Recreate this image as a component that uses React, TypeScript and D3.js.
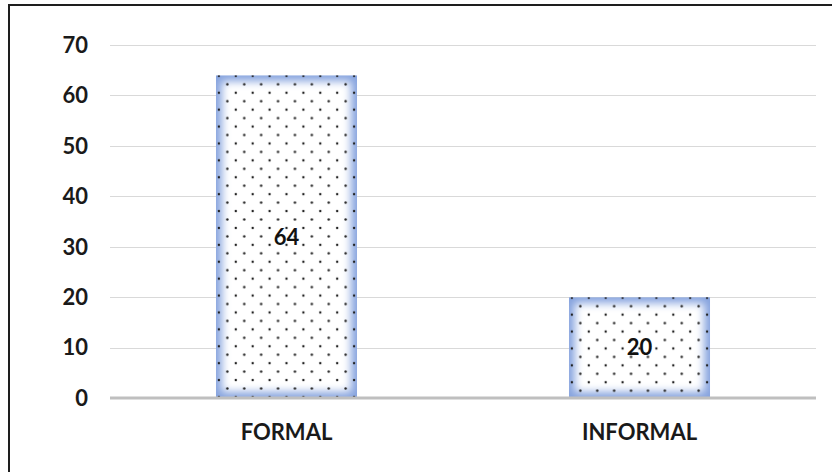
import React from "react";
import * as d3 from "d3";

// Employment type counts
const categories: string[] = ["FORMAL", "INFORMAL"];
const values: number[] = [64, 20];
const yTicks: number[] = [0, 10, 20, 30, 40, 50, 60, 70];

const W = 832;
const H = 472;
const plot = { left: 110, right: 816, top: 45, bottom: 398 };
const FONT = "Lato, 'Open Sans', sans-serif";

export default function App() {
  const x = d3
    .scaleBand<string>()
    .domain(categories)
    .range([plot.left, plot.right])
    .paddingInner(0.6)
    .paddingOuter(0.3);
  const y = d3.scaleLinear().domain([0, 70]).range([plot.bottom, plot.top]);
  const bw = x.bandwidth();
  const tile = 16.9;

  return (
    <div style={{ position: "fixed", left: 0, top: 0 }}>
      <svg width={W} height={H} style={{ display: "block", background: "#fff" }}>
        <defs>
          <filter id="glow" x="-20%" y="-20%" width="140%" height="140%">
            <feGaussianBlur stdDeviation="4.5" />
          </filter>
          {categories.map((c, i) => {
            const bx = x(c)!;
            const by = y(values[i]);
            return (
              <React.Fragment key={c}>
                <clipPath id={`clip-${i}`}>
                  <rect x={bx} y={by} width={bw} height={plot.bottom - by} />
                </clipPath>
                <pattern
                  id={`dots-${i}`}
                  patternUnits="userSpaceOnUse"
                  x={bx + 3}
                  y={by + 0.6}
                  width={tile}
                  height={tile}
                >
                  <circle cx={0} cy={0} r={1.2} fill="#1f1f1f" />
                  <circle cx={tile} cy={0} r={1.2} fill="#1f1f1f" />
                  <circle cx={0} cy={tile} r={1.2} fill="#1f1f1f" />
                  <circle cx={tile} cy={tile} r={1.2} fill="#1f1f1f" />
                  <circle cx={tile / 2} cy={tile / 2} r={1.2} fill="#1f1f1f" />
                </pattern>
              </React.Fragment>
            );
          })}
        </defs>

        {/* frame */}
        <rect x={9} y={5} width={W + 40} height={H + 40} fill="none" stroke="#1e1e1e" strokeWidth={2} />

        {/* gridlines */}
        {yTicks
          .filter((t) => t > 0)
          .map((t) => (
            <line
              key={t}
              x1={plot.left}
              x2={plot.right}
              y1={Math.round(y(t)) + 0.5}
              y2={Math.round(y(t)) + 0.5}
              stroke="#d9d9d9"
              strokeWidth={1}
            />
          ))}

        {/* y tick labels */}
        {yTicks.map((t) => (
          <text
            key={t}
            x={88}
            y={y(t)}
            dy="0.36em"
            textAnchor="end"
            fontFamily={FONT}
            fontWeight={700}
            fontSize={22}
            fill="#1a1a1a"
          >
            {t}
          </text>
        ))}

        {/* bars */}
        {categories.map((c, i) => {
          const bx = x(c)!;
          const by = y(values[i]);
          const bh = plot.bottom - by;
          return (
            <g key={c}>
              <g clipPath={`url(#clip-${i})`}>
                <rect x={bx} y={by} width={bw} height={bh} fill="#86a3de" />
                <rect
                  x={bx + 6}
                  y={by + 6}
                  width={bw - 12}
                  height={Math.max(bh - 12, 0)}
                  fill="#ffffff"
                  filter="url(#glow)"
                />
                <rect x={bx} y={by} width={bw} height={bh} fill={`url(#dots-${i})`} />
              </g>
              <text
                x={bx + bw / 2}
                y={y(values[i] / 2)}
                dy="0.36em"
                textAnchor="middle"
                fontFamily={FONT}
                fontWeight={700}
                fontSize={22}
                fill="#111"
              >
                {values[i]}
              </text>
            </g>
          );
        })}

        {/* baseline */}
        <line x1={plot.left} x2={plot.right} y1={plot.bottom} y2={plot.bottom} stroke="#bfbfbf" strokeWidth={3} />

        {/* category labels */}
        {categories.map((c) => (
          <text
            key={c}
            x={x(c)! + bw / 2}
            y={440}
            textAnchor="middle"
            fontFamily={FONT}
            fontWeight={700}
            fontSize={22}
            fill="#1a1a1a"
          >
            {c}
          </text>
        ))}
      </svg>
    </div>
  );
}
